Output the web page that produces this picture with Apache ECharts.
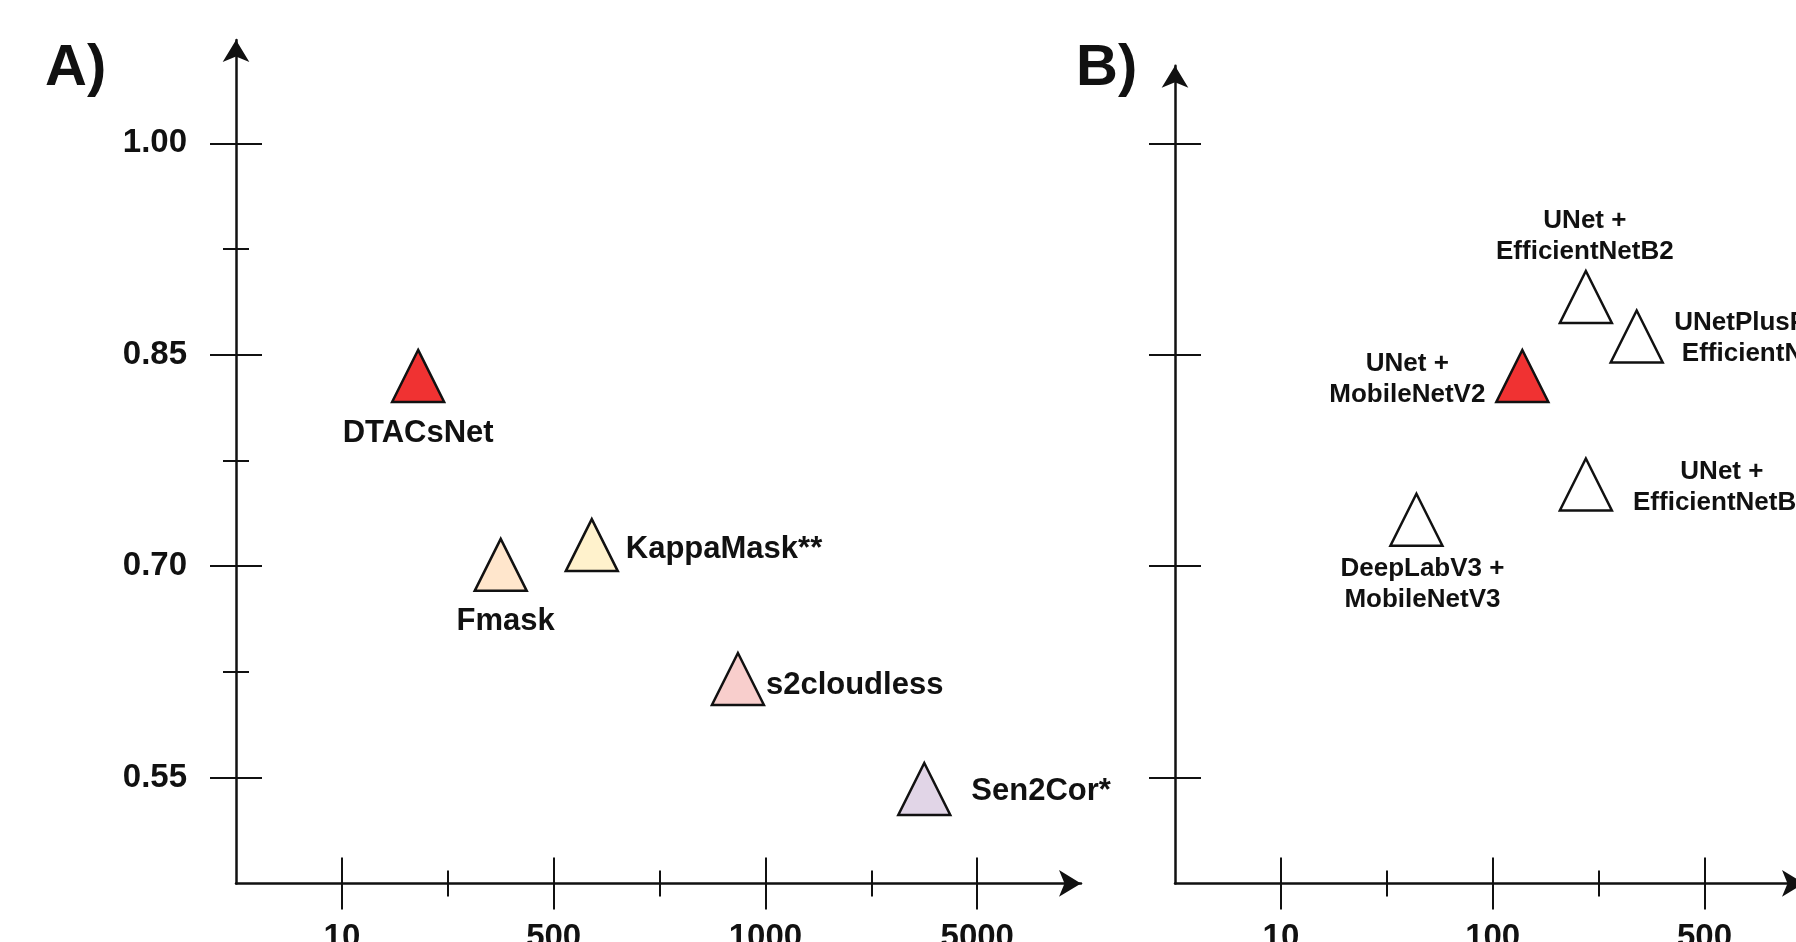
<!DOCTYPE html>
<html>
<head>
<meta charset="utf-8">
<title>Cloud masking comparison</title>
<script src="https://cdn.jsdelivr.net/npm/echarts@6/dist/echarts.min.js"></script>
<style>
  html, body { margin: 0; padding: 0; background: #fff; }
  #chart { width: 1796px; height: 942px; }
</style>
</head>
<body>
<div id="chart"></div>
<script>
// A) existing cloud masking tools
const namesA = ['DTACsNet', 'Fmask', 'KappaMask**', 's2cloudless', 'Sen2Cor*']
const xPosA = [0.36, 0.75, 1.18, 1.87, 2.75] // in tick steps, 0 = "10"
const scoreA = [0.835, 0.701, 0.715, 0.62, 0.542]
const xTicksA = ['10', '500', '1000', '5000']

// B) deep learning models
const namesB = ['UNet +\nEfficientNetB2', 'UNetPlusPlus +\nEfficientNetB2', 'UNet +\nMobileNetV2', 'UNet +\nEfficientNetB0', 'DeepLabV3 +\nMobileNetV3']
const xPosB = [1.44, 1.68, 1.14, 1.44, 0.64]
const scoreB = [0.891, 0.863, 0.835, 0.758, 0.733]
const xTicksB = ['10', '100', '500']

const yTicks = [0.55, 0.70, 0.85, 1.00]
const yMinorTicks = [0.625, 0.775, 0.925]

const FONT = '"Liberation Sans", Arial, sans-serif'
const INK = '#111'

// styling only
const colorsA = ['#f03232', '#ffe6cc', '#fff2cc', '#f8cecc', '#e1d5e7']
const colorsB = ['#ffffff', '#ffffff', '#f03232', '#ffffff', '#ffffff']
const labelA = [
  { align: 'center', offset: [0, 58] },
  { align: 'center', offset: [5, 57] },
  { align: 'left', offset: [34, 4] },
  { align: 'left', offset: [28, 6] },
  { align: 'left', offset: [47, 3] },
]
const labelB = [
  { offset: [-1, -61] },
  { offset: [134, 2] },
  { offset: [-115, 3] },
  { offset: [136, 3] },
  { offset: [6, 65] },
]

const chart = echarts.init(document.getElementById('chart'))

// ticks cross the axis, so each side is its own (invisible) axis
const makeAxes = (kind, gridIndex, min, max, major, minor, labels, margin) => {
  const pos = kind === 'x' ? 'bottom' : 'left'
  const base = {
    type: 'value',
    gridIndex,
    min,
    max,
    position: pos,
    splitLine: { show: false },
    axisLabel: { show: false },
    axisLine: { show: false, onZero: false },
    axisTick: { show: false },
  }
  const tick = (values, inside, length) => ({
    ...base,
    axisTick: { show: true, inside, length, customValues: values, lineStyle: { color: INK, width: 2 } },
  })
  const axes = [
    {
      ...base,
      axisLine: {
        show: true,
        onZero: false,
        symbol: ['none', 'arrow'],
        symbolSize: [20, 22],
        lineStyle: { color: INK, width: 2.5 },
      },
      axisTick: { show: true, length: 26, customValues: major, lineStyle: { color: INK, width: 2 } },
      axisLabel: labels
        ? {
            show: true,
            customValues: major,
            formatter: (v) => labels[major.findIndex((m) => Math.abs(m - v) < 1e-6)],
            margin,
            padding: kind === 'y' ? [5, 0, 0, 0] : 0,
            color: INK,
            fontSize: 33,
            fontWeight: 'bold',
            fontFamily: FONT,
          }
        : { show: false },
    },
    tick(major, true, 26),
  ]
  if (minor.length) {
    axes.push(tick(minor, false, 13), tick(minor, true, 13))
  }
  return axes
}

const majorA = xTicksA.map((_, i) => i)
const majorB = xTicksB.map((_, i) => i)

const xAxesA = makeAxes('x', 0, -0.5, 3.49, majorA, majorA.slice(0, -1).map((v) => v + 0.5), xTicksA, 38)
const xAxesB = makeAxes('x', 1, -0.5, 2.47, majorB, majorB.slice(0, -1).map((v) => v + 0.5), xTicksB, 38)
const yAxesA = makeAxes('y', 0, 0.475, 1.0733, yTicks, yMinorTicks, yTicks.map((v) => v.toFixed(2)), 49)
const yAxesB = makeAxes('y', 1, 0.475, 1.0551, yTicks, [], null, 0)

const series = [
  {
    type: 'scatter',
    xAxisIndex: 0,
    yAxisIndex: 0,
    symbol: 'triangle',
    symbolSize: 52,
    data: namesA.map((name, i) => ({
      name,
      value: [xPosA[i], scoreA[i]],
      itemStyle: { color: colorsA[i] },
      label: labelA[i],
    })),
    itemStyle: { borderColor: INK, borderWidth: 2.5, opacity: 1 },
    label: {
      show: true,
      position: 'inside',
      formatter: '{b}',
      verticalAlign: 'middle',
      color: INK,
      fontSize: 31,
      fontWeight: 'bold',
      fontFamily: FONT,
    },
  },
  {
    type: 'scatter',
    xAxisIndex: xAxesA.length,
    yAxisIndex: yAxesA.length,
    symbol: 'triangle',
    symbolSize: 52,
    data: namesB.map((name, i) => ({
      name,
      value: [xPosB[i], scoreB[i]],
      itemStyle: { color: colorsB[i] },
      label: labelB[i],
    })),
    itemStyle: { borderColor: INK, borderWidth: 2.5, opacity: 1 },
    label: {
      show: true,
      position: 'inside',
      formatter: '{b}',
      align: 'center',
      verticalAlign: 'middle',
      lineHeight: 31,
      color: INK,
      fontSize: 26,
      fontWeight: 'bold',
      fontFamily: FONT,
    },
  },
]

const option = {
  animation: false,
  backgroundColor: '#fff',
  grid: [
    { left: 236, top: 40, width: 845, height: 843.4, containLabel: false, outerBoundsMode: 'none' },
    { left: 1175, top: 65.7, width: 629, height: 817.7, containLabel: false, outerBoundsMode: 'none' },
  ],
  xAxis: [...xAxesA, ...xAxesB],
  yAxis: [...yAxesA, ...yAxesB],
  series,
  graphic: [
    { type: 'text', left: 45, top: 40, style: { text: 'A)', font: `bold 58px ${FONT}`, fill: INK } },
    { type: 'text', left: 1076, top: 40, style: { text: 'B)', font: `bold 58px ${FONT}`, fill: INK } },
  ],
}

chart.setOption(option)
window.addEventListener('resize', () => chart.resize())
</script>
</body>
</html>
